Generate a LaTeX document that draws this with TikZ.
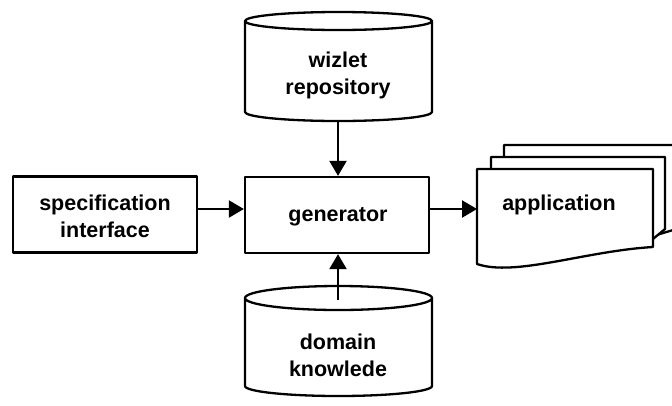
\documentclass[tikz,border=0pt]{standalone}
\usepackage{fontspec}
\setmainfont{Liberation Sans}
\usetikzlibrary{arrows.meta}
\begin{document}
\begin{tikzpicture}[x=1pt,y=1pt,
  line width=2.3pt, line join=round,
  lbl/.style={font=\bfseries\fontsize{21.5}{27}\selectfont, align=center, inner sep=0pt},
  boxnode/.style={draw, minimum width=184pt, minimum height=76pt, inner sep=0pt},
  arr/.style={-{Triangle[length=15pt,width=17pt]}, line width=2.3pt},
  sheet/.style={draw, fill=white}]
\useasboundingbox (0,0) rectangle (672,-405);
\begin{scope}
\clip (0,0) rectangle (672,-405);
% top cylinder
\draw (245,-21) -- (245,-112) arc[start angle=180,end angle=360,x radius=93.5,y radius=9]
  -- (432,-21) arc[start angle=0,end angle=180,x radius=93.5,y radius=9]
  arc[start angle=180,end angle=360,x radius=93.5,y radius=9];
\coordinate (wizbot) at (338,-121);
\node[lbl] (wiz) at (338,-75) {wizlet\\repository};
% bottom cylinder
\draw (245,-298) -- (245,-386) arc[start angle=180,end angle=360,x radius=93.5,y radius=10]
  -- (432,-298) arc[start angle=0,end angle=180,x radius=93.5,y radius=12]
  arc[start angle=180,end angle=360,x radius=93.5,y radius=12];
\coordinate (domtop) at (338,-300);
\node[lbl] (dom) at (338,-355) {domain\\knowlede};
% boxes
\node[boxnode] (spec) at (105,-214.5) {};
\node[lbl] (spectext) at (105,-216) {specification\\interface};
\node[boxnode] (gen) at (337,-215) {};
\node[lbl] (gentext) at (338,-217) {generator};
% application stack
\draw[sheet] (504,-169) -- (504,-145) -- (690,-145) -- (690,-225) -- (653,-236) -- cycle;
\draw[sheet] (491,-169) -- (491,-157) -- (665,-157) -- (665,-229) -- (653,-239) -- cycle;
\draw[sheet] (477,-169) -- (653,-169) -- (653,-247)
  .. controls (585,-251) and (515,-277) .. (477,-264) -- cycle;
\node[lbl] (app) at (559,-205) {application};
\coordinate (appleft) at (477,-209);
\end{scope}
% connectors
\draw[arr] (wizbot) -- (gen.north -| wizbot);
\draw[arr] (domtop) -- (gen.south -| domtop);
\draw[arr] (spec.east |- appleft) -- (gen.west |- appleft);
\draw[arr] (gen.east |- appleft) -- (appleft);
\end{tikzpicture}
\end{document}
